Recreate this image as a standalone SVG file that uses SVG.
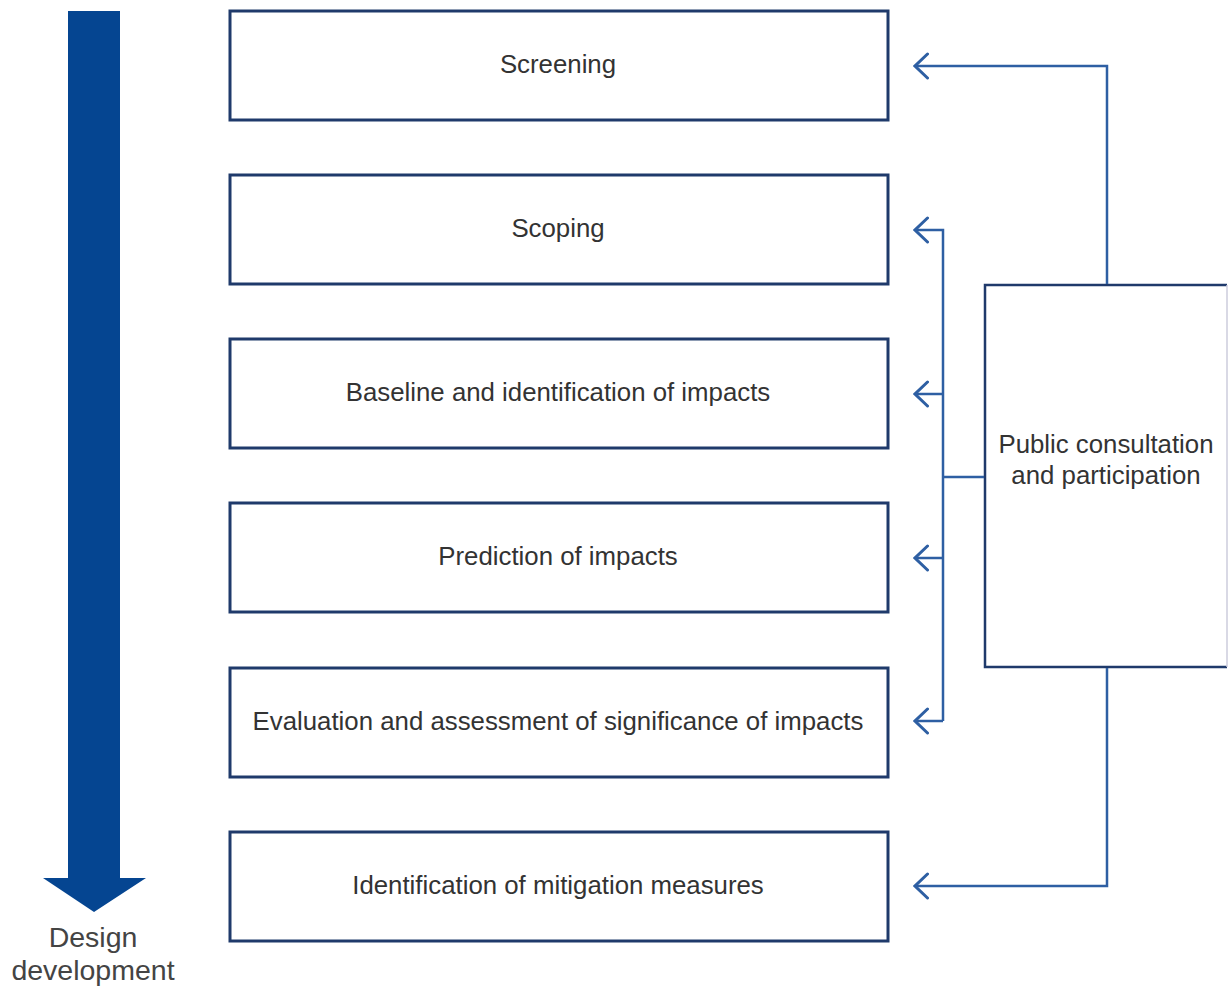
<svg xmlns="http://www.w3.org/2000/svg" width="1228" height="986" viewBox="0 0 1228 986">
<defs>
<style>
.box{fill:#fff;stroke:#1f3a6b;stroke-width:3}
.lbl{font-family:"Liberation Sans",Arial,sans-serif;font-size:25.8px;fill:#333;text-anchor:middle}
.conn{fill:none;stroke:#2e5fa3;stroke-width:2.5}
</style>
<marker id="ah" viewBox="0 0 16 28" refX="14" refY="14" markerWidth="16" markerHeight="28" markerUnits="userSpaceOnUse" orient="auto">
<path d="M1.5,2 L14,14 L1.5,26" fill="none" stroke="#2e5fa3" stroke-width="3" stroke-linecap="round"/>
</marker>
</defs>
<rect width="1228" height="986" fill="#fff"/>
<g id="design-arrow">
<path d="M68,11 H120 V878 H146 L94,912 L43,878 H68 Z" fill="#054591"/>
<text class="lbl" x="93" y="947" style="font-size:28.5px;fill:#444">Design</text>
<text class="lbl" x="93" y="980" style="font-size:28.5px;fill:#444">development</text>
</g>
<g id="screening"><rect class="box" x="230" y="11" width="658" height="109"/><text class="lbl" x="558" y="73">Screening</text></g>
<g id="scoping"><rect class="box" x="230" y="175" width="658" height="109"/><text class="lbl" x="558" y="237">Scoping</text></g>
<g id="baseline"><rect class="box" x="230" y="339" width="658" height="109"/><text class="lbl" x="558" y="401">Baseline and identification of impacts</text></g>
<g id="prediction"><rect class="box" x="230" y="503" width="658" height="109"/><text class="lbl" x="558" y="565">Prediction of impacts</text></g>
<g id="evaluation"><rect class="box" x="230" y="668" width="658" height="109"/><text class="lbl" x="558" y="730">Evaluation and assessment of significance of impacts</text></g>
<g id="mitigation"><rect class="box" x="230" y="832" width="658" height="109"/><text class="lbl" x="558" y="894">Identification of mitigation measures</text></g>
<g id="public">
<path d="M1227,285 H985 V667 H1227" fill="#fff" stroke="#1f3a6b" stroke-width="2.5"/>
<line x1="1227" y1="285" x2="1227" y2="667" stroke="#ccd" stroke-width="1.5"/>
<text class="lbl" x="1106" y="453">Public consultation</text>
<text class="lbl" x="1106" y="484">and participation</text>
</g>
<g id="connectors">
<path class="conn" d="M1107,284 V66 H915" marker-end="url(#ah)"/>
<path class="conn" d="M943,721 V230 H915" marker-end="url(#ah)"/>
<path class="conn" d="M943,394 H915" marker-end="url(#ah)"/>
<path class="conn" d="M943,558 H915" marker-end="url(#ah)"/>
<path class="conn" d="M943,721 H915" marker-end="url(#ah)"/>
<path class="conn" d="M943,477 H984"/>
<path class="conn" d="M1107,668 V886 H915" marker-end="url(#ah)"/>
</g>
</svg>
